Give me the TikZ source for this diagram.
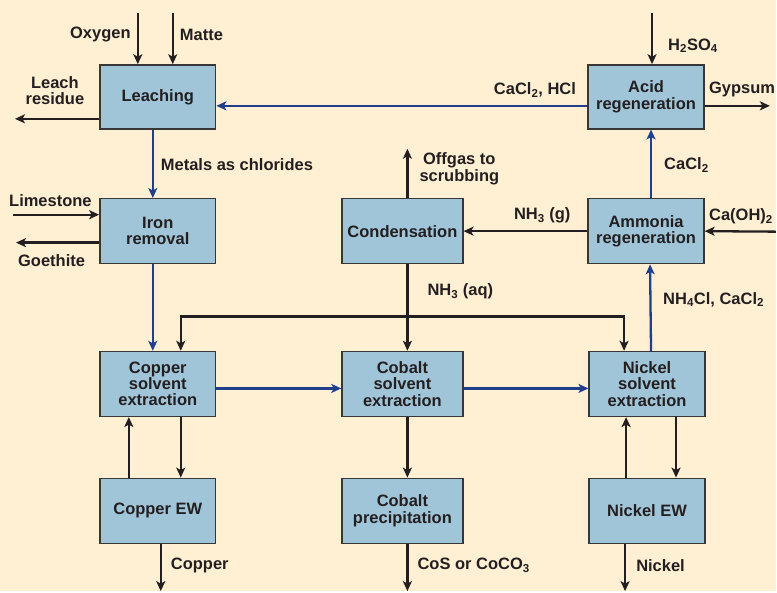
\documentclass[tikz,border=0pt]{standalone}
\usepackage{fontspec}
\setmainfont{Liberation Sans}
\usepackage{tikz}
\usetikzlibrary{arrows.meta,positioning,calc}
\definecolor{paperCream}{RGB}{255, 240, 212}
\definecolor{unitBlue}{RGB}{161, 197, 216}
\definecolor{unitEdge}{RGB}{55, 55, 55}
\definecolor{liquorBlue}{RGB}{33, 62, 140}
\definecolor{flowBlack}{RGB}{35, 31, 32}
\newcommand{\lbfont}{\bfseries\fontsize{16.5}{16.3}\selectfont}

\begin{document}
\begin{tikzpicture}[
        x=1pt, y=-1pt,
        unit/.style={rectangle, draw=unitEdge, fill=unitBlue, line width=1.4pt, minimum width=116pt, minimum height=65pt, inner sep=0pt, align=center, font=\lbfont, text=flowBlack},
        wideunit/.style={unit, minimum width=121pt},
        lbl/.style={inner sep=0pt, align=center, font=\lbfont, text=flowBlack},
        flow/.style={-{Stealth[length=10pt, width=9pt, inset=2.5pt]}, line width=2.3pt, draw=flowBlack},
        liquor/.style={-{Stealth[length=10pt, width=9pt, inset=2.5pt]}, line width=2.3pt, draw=liquorBlue}
    ]
        % Background
        \fill[paperCream] (0,0) rectangle (777,592);

        % Left column
        \node[unit, minimum height=64pt] (leach) at (158,97) {Leaching};
        \node[unit] (iron) at (158,231.5) {Iron\\removal};
        \node[unit] (cusx) at (158,384.5) {Copper\\solvent\\extraction};
        \node[unit] (cuew) at (158,511.5) {Copper EW};

        % Middle column
        \node[wideunit] (cond) at (403,231.5) {Condensation};
        \node[wideunit] (cosx) at (403,384.5) {Cobalt\\solvent\\extraction};
        \node[wideunit] (coppt) at (403,511.5) {Cobalt\\precipitation};

        % Right column
        \node[unit, minimum height=64pt] (acid) at (647,97) {Acid\\regeneration};
        \node[unit] (ammonia) at (647,231.5) {Ammonia\\regeneration};
        \node[unit] (nisx) at (648,384.5) {Nickel\\solvent\\extraction};
        \node[unit] (niew) at (648,511.5) {Nickel EW};

        % Free ends
        \coordinate (oxygen) at (138,13);
        \coordinate (matte) at (173,13);
        \coordinate (residue) at (15,119);
        \coordinate (h2so4) at (653,13);
        \coordinate (gypsum) at (771,106);
        \coordinate (limestone) at (13,215);
        \coordinate (goethite) at (16,243);
        \coordinate (offgas) at (408,149);
        \coordinate (slaked) at (777,232);
        \coordinate (split) at (408,317);
        \coordinate (copper) at (161,592);
        \coordinate (cobalt) at (408,592);
        \coordinate (nickel) at (626,592);

        % Labels
        \node[lbl, anchor=east] (oxygenlbl) at (131,35) {Oxygen};
        \node[lbl, anchor=west] (mattelbl) at (180,35) {Matte};
        \node[lbl] (residuelbl) at (55,91) {Leach\\residue};
        \node[lbl, anchor=east] (recyclelbl) at (577,90) {CaCl\textsubscript{2}, HCl};
        \node[lbl, anchor=west] (h2so4lbl) at (669,46) {H\textsubscript{2}SO\textsubscript{4}};
        \node[lbl, anchor=west] (gypsumlbl) at (710,90) {Gypsum};
        \node[lbl, anchor=west] (chloridelbl) at (161,165) {Metals as chlorides};
        \node[lbl, anchor=west] (limestonelbl) at (9,201) {Limestone};
        \node[lbl, anchor=west] (goethitelbl) at (18,261) {Goethite};
        \node[lbl] (offgaslbl) at (460,169) {Offgas to\\scrubbing};
        \node[lbl] (nh3glbl) at (543,216) {NH\textsubscript{3} (g)};
        \node[lbl, anchor=west] (slakedlbl) at (710,217) {Ca(OH)\textsubscript{2}};
        \node[lbl, anchor=west] (cacllbl) at (665,165) {CaCl\textsubscript{2}};
        \node[lbl, anchor=west] (nh3aqlbl) at (428,292) {NH\textsubscript{3} (aq)};
        \node[lbl, anchor=west] (nh4cllbl) at (664,300) {NH\textsubscript{4}Cl, CaCl\textsubscript{2}};
        \node[lbl, anchor=west] (copperlbl) at (171,566) {Copper};
        \node[lbl, anchor=west] (cobaltlbl) at (418,566) {CoS or CoCO\textsubscript{3}};
        \node[lbl, anchor=west] (nickellbl) at (637,566) {Nickel};

        % Leaching and acid loop
        \draw[flow] (oxygen) -- (oxygen |- leach.north);
        \draw[flow] (matte) -- (matte |- leach.north);
        \draw[flow] (residue -| leach.west) -- (residue);
        \draw[flow] (h2so4) -- (h2so4 |- acid.north);
        \draw[flow] ([yshift=-9pt]acid.east) -- (gypsum);
        \draw[liquor] ([yshift=-9pt]acid.west) -- ([yshift=-9pt]leach.east);
        \draw[liquor] ([xshift=-5pt]leach.south) -- ([xshift=-5pt]iron.north);
        \draw[flow] (limestone) -- (limestone -| iron.west);
        \draw[flow] (goethite -| iron.west) -- (goethite);
        \draw[liquor] ([xshift=-5pt]iron.south) -- ([xshift=-5pt]cusx.north);

        % Ammonia loop
        \draw[flow] ([xshift=5pt]cond.north) -- (offgas);
        \draw[flow] (ammonia.west) -- (cond.east);
        \draw[flow] (slaked) -- (ammonia.east);
        \draw[liquor] ([xshift=5pt]ammonia.north) -- ([xshift=5pt]acid.south);
        \draw[liquor] ([xshift=4pt]nisx.north) -- ([xshift=4pt]ammonia.south);
        \draw[flow] ([xshift=5pt]cond.south) -- ([xshift=5pt]cosx.north);
        \draw[flow] (split) -| ([xshift=23pt]cusx.north);
        \draw[flow] (split) -| ([xshift=-23pt]nisx.north);

        % Solvent extraction train
        \draw[liquor] ([yshift=-4.5pt]cusx.east) -- ([yshift=-4.5pt]cosx.west);
        \draw[liquor] ([yshift=-4.5pt]cosx.east) -- ([yshift=-4.5pt]nisx.west);
        \draw[flow] ([xshift=23pt]cusx.south) -- ([xshift=23pt]cuew.north);
        \draw[flow] ([xshift=-29pt]cuew.north) -- ([xshift=-29pt]cusx.south);
        \draw[flow] ([xshift=5pt]cosx.south) -- ([xshift=5pt]coppt.north);
        \draw[flow] ([xshift=29pt]nisx.south) -- ([xshift=29pt]niew.north);
        \draw[flow] ([xshift=-21pt]niew.north) -- ([xshift=-21pt]nisx.south);

        % Products
        \draw[flow] (cuew.south -| copper) -- (copper);
        \draw[flow] (coppt.south -| cobalt) -- (cobalt);
        \draw[flow] (niew.south -| nickel) -- (nickel);

    \end{tikzpicture}
\end{document}
